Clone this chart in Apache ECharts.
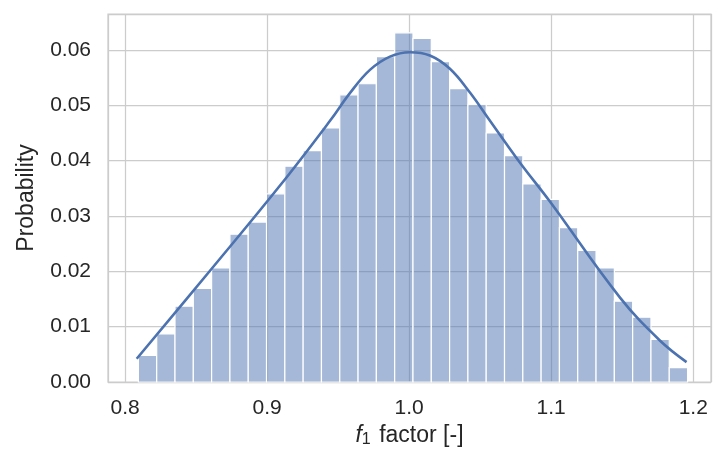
<!DOCTYPE html>
<html>
<head>
<meta charset="utf-8">
<script src="https://cdn.jsdelivr.net/npm/echarts@6/dist/echarts.min.js"></script>
<style>
  html, body { margin: 0; padding: 0; background: #fff; }
  #main { width: 716px; height: 459px; }
</style>
</head>
<body>
<div id="main"></div>
<script>
// histogram: 30 bins, probability per bin
const firstEdge = 0.8094
const binWidth = 0.012887
const binProb = [
  0.0048, 0.0087, 0.0137, 0.0169, 0.0206, 0.0267, 0.0289, 0.0340, 0.0390, 0.0418,
  0.0459, 0.0519, 0.0539, 0.0588, 0.0631, 0.0621, 0.0579, 0.0530, 0.0501, 0.0450,
  0.0409, 0.0358, 0.0330, 0.0279, 0.0238, 0.0206, 0.0146, 0.0117, 0.0077, 0.0026
]

// kde curve
const kdeX = [0.8082, 0.8598, 0.9091, 0.9443, 0.9583, 0.9724, 0.9865, 1.0006, 1.0146,
  1.0287, 1.0428, 1.0569, 1.0775, 1.0991, 1.1483, 1.1765, 1.1953]
const kdeY = [0.0042, 0.0201, 0.0355, 0.0472, 0.0522, 0.0564, 0.0588, 0.0596, 0.0590,
  0.0566, 0.0523, 0.0472, 0.0398, 0.0326, 0.0153, 0.0075, 0.0036]

const xTicks = [0.8, 0.9, 1.0, 1.1, 1.2]
const yTicks = [0, 0.01, 0.02, 0.03, 0.04, 0.05, 0.06]

const fontFam = '"Liberation Sans", Arial, sans-serif'
const textCol = '#262626'
const gridCol = '#cccccc'

const bars = binProb.map((p, i) => [firstEdge + i * binWidth, firstEdge + (i + 1) * binWidth, p])
const kde = kdeX.map((x, i) => [x, kdeY[i]])

const isTick = (v, list) => list.some(t => Math.abs(t - v) < 1e-6)

const myChart = echarts.init(document.getElementById('main'))

myChart.setOption({
  animation: false,
  backgroundColor: '#ffffff',
  grid: {
    left: 108, right: 5, top: 14, bottom: 77,
    show: true, borderColor: gridCol, borderWidth: 1.25
  },
  xAxis: {
    type: 'value',
    min: 0.788,
    max: 1.2125,
    splitNumber: 4,
    axisLine: { show: false },
    axisTick: { show: false },
    splitLine: {
      lineStyle: { color: gridCol, width: 1.25 }
    },
    axisLabel: {
      margin: 16,
      fontSize: 21,
      fontFamily: fontFam,
      color: textCol,
      formatter: v => isTick(v, xTicks) ? v.toFixed(1) : ''
    },
    name: '{i|f}{s|1} factor [-]',
    nameLocation: 'middle',
    nameGap: 38,
    nameTextStyle: {
      fontSize: 23,
      fontFamily: fontFam,
      color: textCol,
      rich: {
        i: { fontSize: 23, fontStyle: 'italic', fontFamily: fontFam, color: textCol },
        s: { fontSize: 16, fontFamily: fontFam, color: textCol, verticalAlign: 'bottom', padding: [8, 2, 0, 0] }
      }
    }
  },
  yAxis: {
    type: 'value',
    min: 0,
    max: 0.0665,
    interval: 0.01,
    axisLine: { show: false },
    axisTick: { show: false },
    splitLine: {
      lineStyle: { color: gridCol, width: 1.25 }
    },
    axisLabel: {
      margin: 17,
      fontSize: 21,
      fontFamily: fontFam,
      color: textCol,
      formatter: v => isTick(v, yTicks) ? v.toFixed(2) : ''
    },
    name: 'Probability',
    nameLocation: 'middle',
    nameGap: 70,
    nameTextStyle: {
      fontSize: 23,
      fontFamily: fontFam,
      color: textCol
    }
  },
  series: [
    {
      type: 'custom',
      data: bars,
      renderItem: function (params, api) {
        const p0 = api.coord([api.value(0), api.value(2)])
        const p1 = api.coord([api.value(1), 0])
        return {
          type: 'rect',
          shape: { x: p0[0], y: p0[1], width: p1[0] - p0[0], height: p1[1] - p0[1] },
          style: { fill: 'rgba(76,114,176,0.5)', stroke: '#ffffff', lineWidth: 1.2 }
        }
      },
      encode: { x: [0, 1], y: 2 }
    },
    {
      type: 'line',
      data: kde,
      smooth: 0.4,
      showSymbol: false,
      lineStyle: { color: '#4c72b0', width: 2.6 },
      z: 5
    }
  ]
})

window.onresize = function () {
  myChart.resize()
}
</script>
</body>
</html>
